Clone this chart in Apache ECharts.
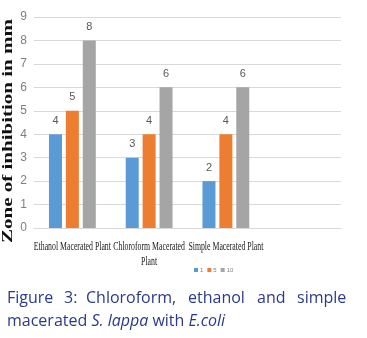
<!DOCTYPE html>
<html>
<head>
<meta charset="utf-8">
<script src="https://cdn.jsdelivr.net/npm/echarts@6/dist/echarts.min.js"></script>
<style>
  html, body { margin: 0; padding: 0; background: #ffffff; }
  #chart { width: 367px; height: 338px; }
</style>
</head>
<body>
<div id="chart"></div>
<script>
// Extraction methods (the fourth slot is left empty on purpose)
const categories = ['Ethanol Macerated Plant', 'Chloroform Macerated\nPlant', 'Simple Macerated Plant', ''];
// Zone of inhibition (mm) per concentration
const conc1 = [4, 3, 2, null];
const conc5 = [5, 4, 4, null];
const conc10 = [8, 6, 6, null];
const seriesNames = ['1', '5', '10'];
const yTicks = [0, 1, 2, 3, 4, 5, 6, 7, 8, 9];
const yAxisTitle = 'Zone of inhibition in mm';
const captionLine1 = ['Figure', '3:', 'Chloroform,', 'ethanol', 'and', 'simple'];

const colors = ['#5b9bd5', '#ed7d31', '#a5a5a5'];
const digitFont = "'Liberation Sans Narrow', 'Liberation Sans', sans-serif";
const serifFont = "'Liberation Serif', serif";
const captionColor = '#2b3a8c';

const chart = echarts.init(document.getElementById('chart'), null, { renderer: 'canvas' });

function barSeries(name, data, color) {
  return {
    name: name,
    type: 'bar',
    data: data,
    barGap: '30%',
    barCategoryGap: '39%',
    itemStyle: { color: color },
    label: {
      show: true,
      position: 'top',
      distance: 8,
      color: '#595959',
      fontFamily: digitFont,
      fontSize: 11
    }
  };
}

chart.setOption({
  animation: false,
  color: colors,
  grid: { left: 34, right: 26, top: 17, bottom: 110, containLabel: false },
  legend: {
    data: seriesNames,
    left: 189,
    top: 262,
    itemWidth: 4,
    itemHeight: 4,
    itemGap: 4,
    icon: 'rect',
    textStyle: { fontSize: 6, color: '#7f7f7f', padding: [0, 0, 0, -3] }
  },
  xAxis: {
    type: 'category',
    data: categories,
    axisLine: { lineStyle: { color: '#d9d9d9' } },
    axisTick: { show: false },
    // category names are drawn below as condensed text
    axisLabel: { show: false }
  },
  yAxis: {
    type: 'value',
    min: yTicks[0],
    max: yTicks[yTicks.length - 1],
    interval: 1,
    axisLine: { show: false },
    axisTick: { show: false },
    splitLine: { lineStyle: { color: '#d9d9d9' } },
    axisLabel: { color: '#7f7f7f', fontFamily: digitFont, fontSize: 12, margin: 7 }
  },
  series: [
    barSeries(seriesNames[0], conc1, colors[0]),
    barSeries(seriesNames[1], conc5, colors[1]),
    barSeries(seriesNames[2], conc10, colors[2])
  ]
});

// Condensed serif category labels, centred on each category slot of the axis
const graphics = [];
const axisY = chart.convertToPixel({ yAxisIndex: 0 }, yTicks[0]);
categories.forEach(function (name, i) {
  if (!name) return;
  const cx = chart.convertToPixel({ xAxisIndex: 0 }, i);
  graphics.push({
    type: 'text',
    x: cx,
    y: axisY + 11,
    scaleX: 0.6,
    style: {
      text: name,
      font: '13px ' + serifFont,
      fill: '#1a1a1a',
      textAlign: 'center',
      textVerticalAlign: 'top',
      lineHeight: 15
    }
  });
});

// Rotated, stretched bold axis title
graphics.push({
  type: 'text',
  x: 8,
  y: 131,
  rotation: Math.PI / 2,
  scaleX: 1.5,
  style: {
    text: yAxisTitle,
    font: 'bold 14px ' + serifFont,
    fill: '#111',
    textAlign: 'center',
    textVerticalAlign: 'middle'
  }
});

// Figure caption, first line justified word by word
const wordLeft = [7, 64, 86, 188, 257, 297];
captionLine1.forEach(function (w, i) {
  graphics.push({
    type: 'text',
    left: wordLeft[i],
    top: 290,
    style: { text: w, fill: captionColor, font: "16px 'Open Sans', sans-serif" }
  });
});
graphics.push({
  type: 'text',
  left: 7,
  top: 313,
  style: {
    text: 'macerated {i|S. lappa} with {i|E.coli}',
    fill: captionColor,
    font: "16px 'Open Sans', sans-serif",
    rich: {
      i: { fill: captionColor, fontStyle: 'italic', fontSize: 16, fontFamily: "'Open Sans', sans-serif" }
    }
  }
});

chart.setOption({ graphic: graphics });
</script>
</body>
</html>
